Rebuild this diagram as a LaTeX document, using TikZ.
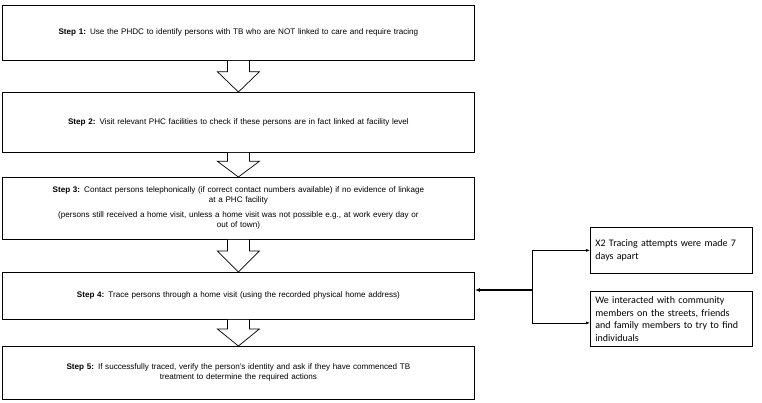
\documentclass[tikz,border=0pt]{standalone}
\usepackage{fontspec}
\setmainfont{Liberation Sans}
\newfontfamily\carfont{Carlito}
\usetikzlibrary{arrows.meta,calc}
\begin{document}
\begin{tikzpicture}[x=1pt,y=-1pt,
  box/.style={draw,line width=0.8pt,minimum width=472pt,text width=436pt,align=center,font=\fontsize{8.1}{10}\selectfont,inner sep=0pt},
  side/.style={draw,line width=0.8pt,minimum width=162pt,text width=152pt,align=left,font=\carfont\fontsize{10}{12.5}\selectfont,inner sep=4pt,anchor=north west},
  hol/.style={draw,line width=0.7pt,fill=white}]
\useasboundingbox (0,0) rectangle (762,403);
\node[box,minimum height=55pt,anchor=north west] (s1) at (2,5) {\textbf{Step 1:} Use the PHDC to identify persons with TB who are NOT linked to care and require tracing};
\node[box,minimum height=60pt,anchor=north west] (s2) at (2,92) {\textbf{Step 2:} Visit relevant PHC facilities to check if these persons are in fact linked at facility level};
\node[box,minimum height=62pt,anchor=north west] (s3) at (2,177) {\textbf{Step 3:} Contact persons telephonically (if correct contact numbers available) if no evidence of linkage\\at a PHC facility\\[5pt](persons still received a home visit, unless a home visit was not possible e.g., at work every day or\\out of town)};
\node[box,minimum height=47pt,anchor=north west] (s4) at (2,272) {\textbf{Step 4:} Trace persons through a home visit (using the recorded physical home address)};
\node[box,minimum height=53pt,anchor=north west] (s5) at (2,346) {\textbf{Step 5:} If successfully traced, verify the person's identity and ask if they have commenced TB\\treatment to determine the required actions};
\foreach \a/\b in {s1/s2,s2/s3,s3/s4,s4/s5}{
  \path (\a.south) coordinate (t) (\b.north) coordinate (h) ($(t)!0.35!(h)$) coordinate (m);
  \draw[hol] ([xshift=-11pt]t) -- ([xshift=-11pt]m) -- ([xshift=-21pt]m) -- (h) -- ([xshift=21pt]m) -- ([xshift=11pt]m) -- ([xshift=11pt]t);
}
\node[side,minimum height=46pt] (a) at (590,227) {X2 Tracing attempts were made 7\\days apart};
\node[side,minimum height=55pt] (b) at (590,291) {We interacted with community\\members on the streets, friends\\and family members to try to find\\individuals};
\coordinate (j) at (532,290);
\draw[line width=1.1pt,-{Latex[length=5pt]}] (j) -- (s4.east|-j);
\draw[line width=0.7pt,-{Latex[length=4pt]}] (j) |- (a.west);
\draw[line width=0.7pt,-{Latex[length=4pt]}] (j) |- ([yshift=-4pt]b.west);
\end{tikzpicture}
\end{document}
